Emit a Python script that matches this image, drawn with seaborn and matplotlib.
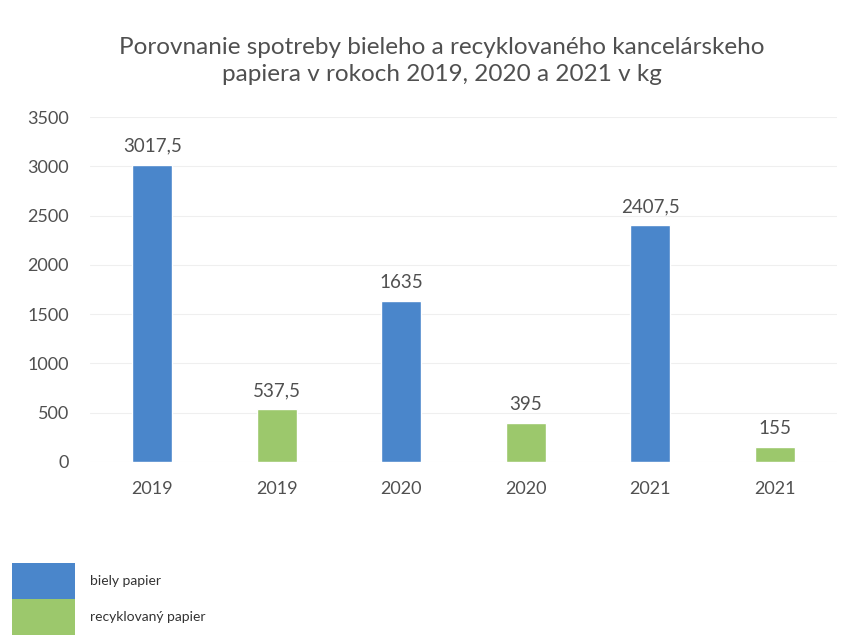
import matplotlib
matplotlib.use("Agg")
import matplotlib.pyplot as plt
import seaborn as sns
import pandas as pd
from matplotlib.patches import Patch

years = ["2019", "2019", "2020", "2020", "2021", "2021"]
values = [3017.5, 537.5, 1635, 395, 2407.5, 155]
series = ["biely papier", "recyklovaný papier"] * 3
series_names = ["biely papier", "recyklovaný papier"]
colors = ["#4a86cb", "#9cc86c"]
title = "Porovnanie spotreby bieleho a recyklovaného kancelárskeho\npapiera v rokoch 2019, 2020 a 2021 v kg"

sns.set_style("white")
plt.rcParams["font.family"] = ["Lato", "DejaVu Sans"]
text_color = "#505050"

df = pd.DataFrame({"pos": [str(i) for i in range(len(values))],
                   "value": values, "series": series})

fig = plt.figure(figsize=(8.51, 6.35), dpi=100)
ax = fig.add_axes([90/851, 173/635, 747/851, 345/635])
sns.barplot(data=df, x="pos", y="value", hue="series", dodge=False,
            palette=dict(zip(series_names, colors)), width=0.32,
            legend=False, ax=ax, saturation=1)

ax.set_ylim(0, 3500)
ax.set_yticks(range(0, 3501, 500))
ax.set_xlim(-0.5, len(values) - 0.5)
ax.set_xticks(range(len(values)))
ax.set_xticklabels(years)
ax.grid(axis="y", color="#efefef", linewidth=0.8)
ax.set_axisbelow(True)
for s in ax.spines.values():
    s.set_visible(False)
ax.tick_params(axis="y", length=0, pad=15, labelsize=13, labelcolor=text_color)
ax.tick_params(axis="x", length=0, pad=14, labelsize=13, labelcolor=text_color)
ax.set_xlabel("")
ax.set_ylabel("")

for i, v in enumerate(values):
    lab = f"{v:g}".replace(".", ",")
    ax.annotate(lab, (i, v), xytext=(0, 7), textcoords="offset points",
                ha="center", va="bottom", fontsize=13.5, color=text_color)

fig.text(442/851, 1 - 61/635, title, ha="center", va="center",
         fontsize=17.5, color=text_color, linespacing=1.3)

handles = [Patch(facecolor=c, edgecolor="none") for c in colors]
fig.legend(handles, series_names, loc="lower left", bbox_to_anchor=(12/851, 0.0),
           borderaxespad=0, frameon=False, fontsize=10, handlelength=4.5,
           handleheight=3.6, labelspacing=0.0, handletextpad=1.1, borderpad=0.0,
           labelcolor="#333333")

fig.savefig("out.png", dpi=100)
